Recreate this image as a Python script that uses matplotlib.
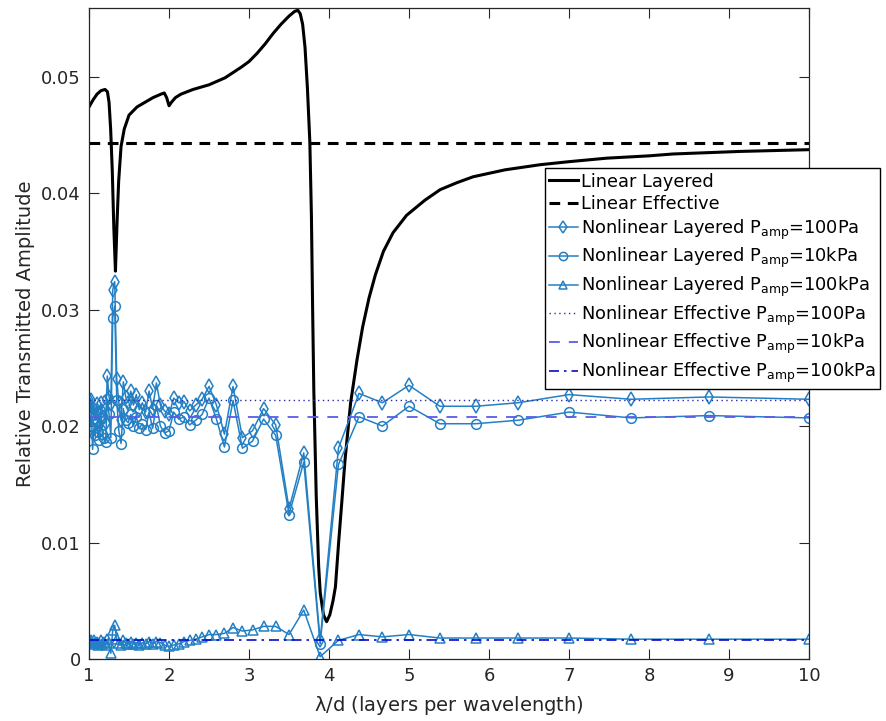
import matplotlib
matplotlib.use("Agg")
import matplotlib.pyplot as plt

plt.rcParams['font.family'] = ['DejaVu Sans']
plt.rcParams['mathtext.default'] = 'regular'

# linear layered response
lin_x = [1.00, 1.05, 1.10, 1.15, 1.20, 1.23, 1.25, 1.27, 1.29, 1.31, 1.33, 1.35,
         1.37, 1.40, 1.44, 1.50, 1.60, 1.70, 1.80, 1.90, 1.94, 1.97, 2.00, 2.03,
         2.08, 2.15, 2.30, 2.50, 2.70, 2.90, 3.00, 3.10, 3.20, 3.30, 3.40, 3.50,
         3.57, 3.61, 3.64, 3.67, 3.70, 3.73, 3.76, 3.78, 3.795, 3.81, 3.84, 3.87,
         3.89, 3.93, 3.97, 4.01, 4.05, 4.08, 4.12, 4.16, 4.20, 4.27, 4.35, 4.42,
         4.50, 4.58, 4.68, 4.80, 4.97, 5.20, 5.39, 5.60, 5.80, 6.20, 6.64, 7.00,
         7.47, 8.00, 8.30, 9.14, 10.0]
lin_y = [0.0474, 0.0480, 0.0485, 0.0488, 0.0489, 0.0487, 0.0478, 0.0455, 0.0420,
         0.0370, 0.0333, 0.0375, 0.0410, 0.0440, 0.0455, 0.0467, 0.0474, 0.0478,
         0.0482, 0.0485, 0.0486, 0.0482, 0.0475, 0.0478, 0.0482, 0.0485, 0.0489,
         0.0493, 0.0499, 0.0508, 0.0513, 0.0520, 0.0528, 0.0537, 0.0545, 0.0552,
         0.0556, 0.0557, 0.0554, 0.0545, 0.0525, 0.0490, 0.0444, 0.0380, 0.0300,
         0.0230, 0.0140, 0.0080, 0.0057, 0.0038, 0.0032, 0.0038, 0.0050, 0.0062,
         0.0100, 0.0135, 0.0171, 0.0220, 0.0257, 0.0285, 0.0310, 0.0330, 0.0350,
         0.0366, 0.0381, 0.0394, 0.0403, 0.0409, 0.0414, 0.0420, 0.04244, 0.0427,
         0.0430, 0.0432, 0.04336, 0.04358, 0.04373]
lin_eff = 0.04433

# sample positions of the nonlinear runs
nl_x = [1.0, 1.0145, 1.0294, 1.0448, 1.0606, 1.0769, 1.0938, 1.1111, 1.129, 1.1475,
        1.1667, 1.1864, 1.2069, 1.2281, 1.25, 1.2727, 1.2963, 1.3208, 1.3462, 1.3725,
        1.4, 1.4286, 1.4583, 1.4894, 1.5217, 1.5556, 1.5909, 1.6279, 1.6667, 1.7073,
        1.75, 1.7949, 1.8421, 1.8919, 1.9444, 2.0, 2.0588, 2.1212, 2.1875, 2.2581,
        2.3333, 2.4138, 2.5, 2.5926, 2.6923, 2.8, 2.9167, 3.0435, 3.1818, 3.3333,
        3.5, 3.6842, 3.8889, 4.1176, 4.375, 4.6667, 5.0, 5.3846, 5.8333, 6.3636,
        7.0, 7.7778, 8.75, 10.0]

nl_100pa = [0.0222, 0.0218, 0.0222, 0.0210, 0.0215, 0.0205, 0.0219, 0.0211, 0.0200, 0.0220,
            0.0213, 0.0208, 0.0203, 0.0243, 0.0225, 0.0219, 0.0317, 0.0324, 0.0240, 0.0220,
            0.0205, 0.0238, 0.0225, 0.0220, 0.0230, 0.0218, 0.0227, 0.0214, 0.0220, 0.0212,
            0.0230, 0.0215, 0.0237, 0.0218, 0.0213, 0.0210, 0.0224, 0.0220, 0.0221, 0.0213,
            0.0218, 0.0223, 0.0234, 0.0218, 0.0193, 0.0234, 0.0190, 0.0196, 0.0215, 0.0201,
            0.0129, 0.0177, 0.0016, 0.0181, 0.0228, 0.0220, 0.0235, 0.0217, 0.0217, 0.0220,
            0.0227, 0.0223, 0.0225, 0.0223]
nl_10kpa = [0.0208, 0.0200, 0.0212, 0.0180, 0.0198, 0.0192, 0.0203, 0.0195, 0.0188, 0.0207,
            0.0193, 0.0190, 0.0186, 0.0223, 0.0210, 0.0190, 0.0293, 0.0303, 0.0222, 0.0196,
            0.0185, 0.0215, 0.0205, 0.0203, 0.0210, 0.0200, 0.0208, 0.0198, 0.0202, 0.0197,
            0.0212, 0.0198, 0.0218, 0.0200, 0.0194, 0.0196, 0.0212, 0.0206, 0.0208, 0.0201,
            0.0205, 0.0210, 0.0224, 0.0206, 0.0182, 0.0222, 0.0181, 0.0187, 0.0206, 0.0192,
            0.0124, 0.0169, 0.0013, 0.0167, 0.0208, 0.0200, 0.0217, 0.0202, 0.0202, 0.0205,
            0.0212, 0.0207, 0.0209, 0.0207]
nl_100kpa = [0.0017, 0.0015, 0.0016, 0.0013, 0.0016, 0.0014, 0.0015, 0.0012, 0.0014, 0.0016,
             0.0013, 0.0015, 0.0012, 0.0017, 0.0014, 0.0005, 0.0025, 0.0029, 0.0017, 0.0014,
             0.0012, 0.0016, 0.0014, 0.0013, 0.0015, 0.0013, 0.0014, 0.0012, 0.0014, 0.0013,
             0.0015, 0.0013, 0.0015, 0.0014, 0.0012, 0.0011, 0.0012, 0.0013, 0.0015, 0.0016,
             0.0017, 0.0019, 0.0021, 0.0021, 0.0022, 0.0027, 0.0024, 0.0025, 0.0028, 0.0028,
             0.0021, 0.0042, 0.0002, 0.0016, 0.0021, 0.0019, 0.0021, 0.0018, 0.0018, 0.0018,
             0.0018, 0.0017, 0.0017, 0.0017]

eff_100pa = 0.02225
eff_10kpa = 0.0208
eff_100kpa = 0.00165

blue = '#2480c4'

fig = plt.figure(figsize=(8.86, 7.21), dpi=100)
ax = fig.add_axes([0.1005, 0.086, 0.8126, 0.903])

ax.plot(lin_x, lin_y, color='black', lw=2.2, label='Linear Layered')
ax.axhline(lin_eff, color='black', lw=2.2, ls=(0, (3.5, 2.5)), label='Linear Effective')

mk = dict(color=blue, lw=1.1, mfc='none', mew=1.1, ms=7)
ax.plot(nl_x, nl_100pa, marker='d', label='Nonlinear Layered P$_{amp}$=100Pa', **mk)
ax.plot(nl_x, nl_10kpa, marker='o', label='Nonlinear Layered P$_{amp}$=10kPa', **mk)
ax.plot(nl_x, nl_100kpa, marker='^', label='Nonlinear Layered P$_{amp}$=100kPa', **mk)

ax.axhline(eff_100pa, color='#2a2aa8', lw=1.0, ls=(0, (1, 2.5)),
           label='Nonlinear Effective P$_{amp}$=100Pa')
ax.axhline(eff_10kpa, color='#5b5be8', lw=1.3, ls=(0, (6, 5)),
           label='Nonlinear Effective P$_{amp}$=10kPa')
ax.axhline(eff_100kpa, color='#0a0acc', lw=1.2, ls=(0, (6, 3, 1.5, 3)),
           label='Nonlinear Effective P$_{amp}$=100kPa')

ax.set_xlim(1, 10)
ax.set_ylim(0, 0.0559)
ax.set_xticks(range(1, 11))
ax.set_yticks([0, 0.01, 0.02, 0.03, 0.04, 0.05])
ax.set_yticklabels(['0', '0.01', '0.02', '0.03', '0.04', '0.05'])
ax.tick_params(direction='in', length=7, width=0.8, top=True, right=True,
               labelsize=13, colors='#262626', pad=6)
for s in ax.spines.values():
    s.set_color('#262626')
    s.set_linewidth(0.9)

ax.set_xlabel(r'$\lambda$/d (layers per wavelength)', fontsize=14, color='#262626',
              labelpad=6)
ax.set_ylabel('Relative Transmitted Amplitude', fontsize=14, color='#262626')

leg = ax.legend(loc='upper left', bbox_to_anchor=(0.633, 0.754), borderaxespad=0,
                fontsize=12.8, fancybox=False, edgecolor='black', framealpha=1,
                handlelength=1.6, handletextpad=0.2, labelspacing=0.25,
                borderpad=0.25, markerscale=0.85)
leg.get_frame().set_linewidth(1.0)

fig.savefig('out.png', dpi=100)
